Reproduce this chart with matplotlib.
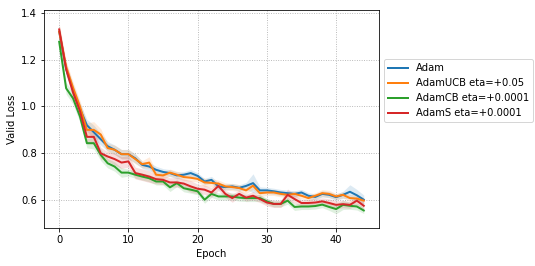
import numpy as np
import matplotlib
matplotlib.use("Agg")
import matplotlib.pyplot as plt

epochs = list(range(45))

adam = [1.32, 1.16, 1.07, 0.99, 0.92, 0.89, 0.86, 0.83, 0.815, 0.796, 0.796, 0.778, 0.75, 0.743, 0.729,
        0.72, 0.715, 0.705, 0.708, 0.715, 0.703, 0.679, 0.686, 0.658, 0.655, 0.658, 0.652, 0.660, 0.672, 0.641,
        0.641, 0.637, 0.632, 0.629, 0.626, 0.632, 0.618, 0.613, 0.626, 0.622, 0.612, 0.622, 0.635, 0.620, 0.601]
adam_ucb = [1.32, 1.17, 1.08, 1.00, 0.90, 0.90, 0.88, 0.822, 0.815, 0.796, 0.796, 0.775, 0.753, 0.76, 0.708,
            0.705, 0.717, 0.708, 0.698, 0.695, 0.69, 0.675, 0.673, 0.67, 0.658, 0.655, 0.651, 0.641, 0.661, 0.629,
            0.632, 0.632, 0.626, 0.622, 0.626, 0.618, 0.608, 0.618, 0.629, 0.626, 0.615, 0.622, 0.608, 0.606, 0.597]
adam_cb = [1.277, 1.078, 1.035, 0.957, 0.843, 0.843, 0.793, 0.757, 0.743, 0.717, 0.717, 0.708, 0.70, 0.693, 0.679,
           0.679, 0.654, 0.672, 0.65, 0.644, 0.637, 0.601, 0.626, 0.615, 0.615, 0.615, 0.61, 0.608, 0.608, 0.608,
           0.594, 0.583, 0.583, 0.597, 0.570, 0.572, 0.572, 0.574, 0.58, 0.57, 0.561, 0.579, 0.575, 0.572, 0.555]
adam_s = [1.33, 1.16, 1.06, 0.98, 0.87, 0.87, 0.80, 0.786, 0.775, 0.76, 0.765, 0.715, 0.708, 0.70, 0.689,
          0.686, 0.675, 0.675, 0.67, 0.658, 0.648, 0.644, 0.632, 0.66, 0.626, 0.608, 0.626, 0.61, 0.618, 0.604,
          0.589, 0.583, 0.583, 0.622, 0.604, 0.587, 0.587, 0.589, 0.594, 0.587, 0.579, 0.582, 0.579, 0.597, 0.575]

adam_std = [0.015, 0.025, 0.025, 0.025, 0.025, 0.03, 0.025, 0.02, 0.02, 0.02, 0.02, 0.02, 0.015, 0.018, 0.015,
            0.014, 0.015, 0.015, 0.013, 0.015, 0.013, 0.013, 0.015, 0.015, 0.013, 0.013, 0.013, 0.015, 0.04, 0.015,
            0.013, 0.013, 0.013, 0.013, 0.013, 0.013, 0.013, 0.013, 0.013, 0.013, 0.013, 0.015, 0.03, 0.025, 0.02]
adam_ucb_std = [0.035, 0.025, 0.025, 0.025, 0.03, 0.035, 0.025, 0.02, 0.02, 0.02, 0.02, 0.02, 0.015, 0.025, 0.015,
                0.015, 0.015, 0.015, 0.015, 0.015, 0.013, 0.018, 0.018, 0.015, 0.015, 0.015, 0.015, 0.015, 0.015, 0.015,
                0.013, 0.013, 0.013, 0.013, 0.013, 0.013, 0.013, 0.013, 0.015, 0.015, 0.013, 0.013, 0.015, 0.015, 0.013]
adam_cb_std = [0.015, 0.025, 0.025, 0.025, 0.02, 0.025, 0.025, 0.02, 0.02, 0.02, 0.015, 0.015, 0.015, 0.015, 0.015,
               0.015, 0.018, 0.015, 0.015, 0.015, 0.015, 0.015, 0.015, 0.015, 0.015, 0.015, 0.015, 0.015, 0.015, 0.015,
               0.013, 0.013, 0.013, 0.015, 0.015, 0.013, 0.013, 0.013, 0.013, 0.015, 0.02, 0.02, 0.015, 0.015, 0.013]
adam_s_std = [0.02, 0.025, 0.025, 0.025, 0.03, 0.03, 0.025, 0.02, 0.025, 0.025, 0.025, 0.025, 0.025, 0.025, 0.02,
              0.02, 0.02, 0.02, 0.02, 0.025, 0.02, 0.02, 0.02, 0.02, 0.015, 0.018, 0.015, 0.015, 0.018, 0.015,
              0.015, 0.015, 0.015, 0.025, 0.018, 0.015, 0.015, 0.015, 0.015, 0.018, 0.018, 0.015, 0.015, 0.018, 0.015]

labels = ["Adam", "AdamUCB eta=+0.05", "AdamCB eta=+0.0001", "AdamS eta=+0.0001"]
colors = ["#1f77b4", "#ff7f0e", "#2ca02c", "#d62728"]
series = [adam, adam_ucb, adam_cb, adam_s]
stds = [adam_std, adam_ucb_std, adam_cb_std, adam_s_std]

fig = plt.figure(figsize=(535 / 72, 266 / 72), dpi=72)
ax = fig.add_axes([0.0822, 0.1429, 0.6262, 0.8195])

x = np.array(epochs)
for vals, sd, lab, c in zip(series, stds, labels, colors):
    v = np.array(vals)
    s = np.array(sd)
    ax.fill_between(x, v - s, v + s, color=c, alpha=0.15, linewidth=0)
    ax.plot(x, v, color=c, lw=2, label=lab)

ax.set_xlim(-2.2, 46.2)
ax.set_ylim(0.48, 1.413)
ax.set_xticks([0, 10, 20, 30, 40])
ax.set_yticks([0.6, 0.8, 1.0, 1.2, 1.4])
ax.grid(True, linestyle=":", color="#b0b0b0", linewidth=0.9)
ax.set_xlabel("Epoch", fontsize=10)
ax.set_ylabel("Valid Loss", fontsize=10)
ax.tick_params(labelsize=10)
ax.legend(loc="center left", bbox_to_anchor=(1.0, 0.63), fontsize=10, frameon=True)

fig.savefig("out.png", dpi=72)
